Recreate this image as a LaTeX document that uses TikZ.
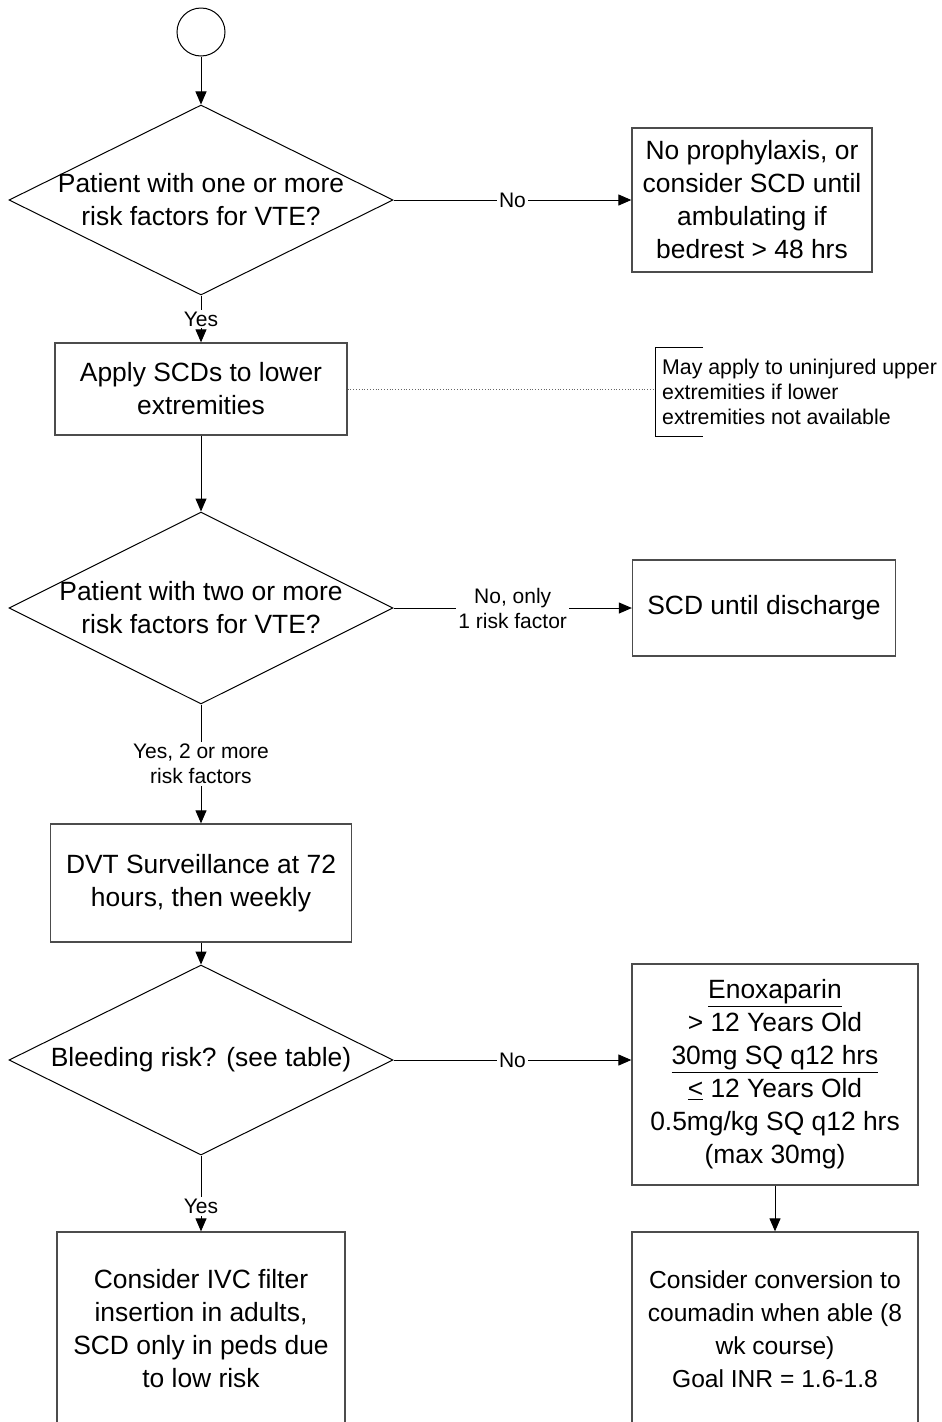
\documentclass[tikz,border=0pt]{standalone}
\usepackage{fontspec}
\setmainfont{Liberation Sans}
\usetikzlibrary{arrows.meta,positioning,shapes.geometric,calc}

\begin{document}
\begin{tikzpicture}[
    x=1pt, y=-1pt,
    box/.style={rectangle, draw=black!70, line width=1.3pt, align=center, font=\fontsize{26.4}{33}\selectfont, inner sep=0pt},
    decision/.style={diamond, draw, line width=1pt, inner sep=0pt, minimum width=384pt, minimum height=190pt},
    qtext/.style={align=center, font=\fontsize{26.4}{33}\selectfont},
    lbl/.style={fill=white, align=center, font=\fontsize{21}{25}\selectfont, inner sep=2pt},
    note/.style={align=left, font=\fontsize{21.3}{25}\selectfont, inner xsep=7pt, inner ysep=0pt, minimum height=89pt, anchor=west},
    arrow/.style={-{Triangle[length=13pt,width=11pt]}, line width=1pt}
]
\useasboundingbox (0,0) rectangle (942,1422);

\node[circle, draw, line width=1pt, minimum size=48pt, inner sep=0pt] (start) at (201,32) {};

% first decision
\node[decision] (d1) at (201,200) {};
\node[qtext] (d1t) at (d1) {Patient with one or more\\risk factors for VTE?};
\node[box, minimum width=240pt, minimum height=144pt] (b1) at (752,200) {No prophylaxis, or\\consider SCD until\\ambulating if\\bedrest > 48 hrs};
\node[box, minimum width=292pt, minimum height=92pt] (b2) at (201,389) {Apply SCDs to lower\\extremities};
\node[note] (n1) at (655,392) {May apply to uninjured upper\\extremities if lower\\extremities not available};

% second decision
\node[decision, minimum height=192pt] (d2) at (201,608) {};
\node[qtext] (d2t) at (d2) {Patient with two or more\\risk factors for VTE?};
\node[box, minimum width=263pt, minimum height=96pt] (b3) at (764,608) {SCD until discharge};
\node[box, minimum width=301pt, minimum height=118pt] (b4) at (201,883) {DVT Surveillance at 72\\hours, then weekly};

% bleeding risk
\node[decision] (d3) at (201,1060) {};
\node[qtext] (d3t) at (d3) {Bleeding risk? (see table)};
\node[box, minimum width=286pt, minimum height=221pt] (b5) at (775,1074.5) {\underline{Enoxaparin}\\> 12 Years Old\\\underline{30mg SQ q12 hrs}\\\underline{<} 12 Years Old\\0.5mg/kg SQ q12 hrs\\(max 30mg)};
\node[box, minimum width=286pt, minimum height=194pt, font=\fontsize{24.6}{33}\selectfont] (b6) at (775,1329) {Consider conversion to\\coumadin when able (8\\wk course)\\Goal INR = 1.6-1.8};
\node[box, minimum width=288pt, minimum height=194pt] (b7) at (201,1329) {Consider IVC filter\\insertion in adults,\\SCD only in peds due\\to low risk};

\draw[arrow] (start) -- (d1);
\draw[arrow] (d1) -- node[lbl] {No} (b1);
\draw[arrow] (d1) -- node[lbl] {Yes} (b2);
\draw[dotted, black!60, line width=0.8pt] (b2.east) -- (b2.east -| n1.west);
\draw[line width=1pt] ([xshift=48pt]n1.north west) -- (n1.north west) -- (n1.south west) -- ([xshift=48pt]n1.south west);
\draw[arrow] (b2) -- (d2);
\draw[arrow] (d2) -- node[lbl] {No, only\\1 risk factor} (b3);
\draw[arrow] (d2) -- node[lbl] {Yes, 2 or more\\risk factors} (b4);
\draw[arrow] (b4) -- (d3);
\draw[arrow] (d3.east) -- node[lbl] {No} (d3.east -| b5.west);
\draw[arrow] (d3) -- node[lbl, pos=0.67] {Yes} (b7);
\draw[arrow] (b5) -- (b6);
\end{tikzpicture}
\end{document}
